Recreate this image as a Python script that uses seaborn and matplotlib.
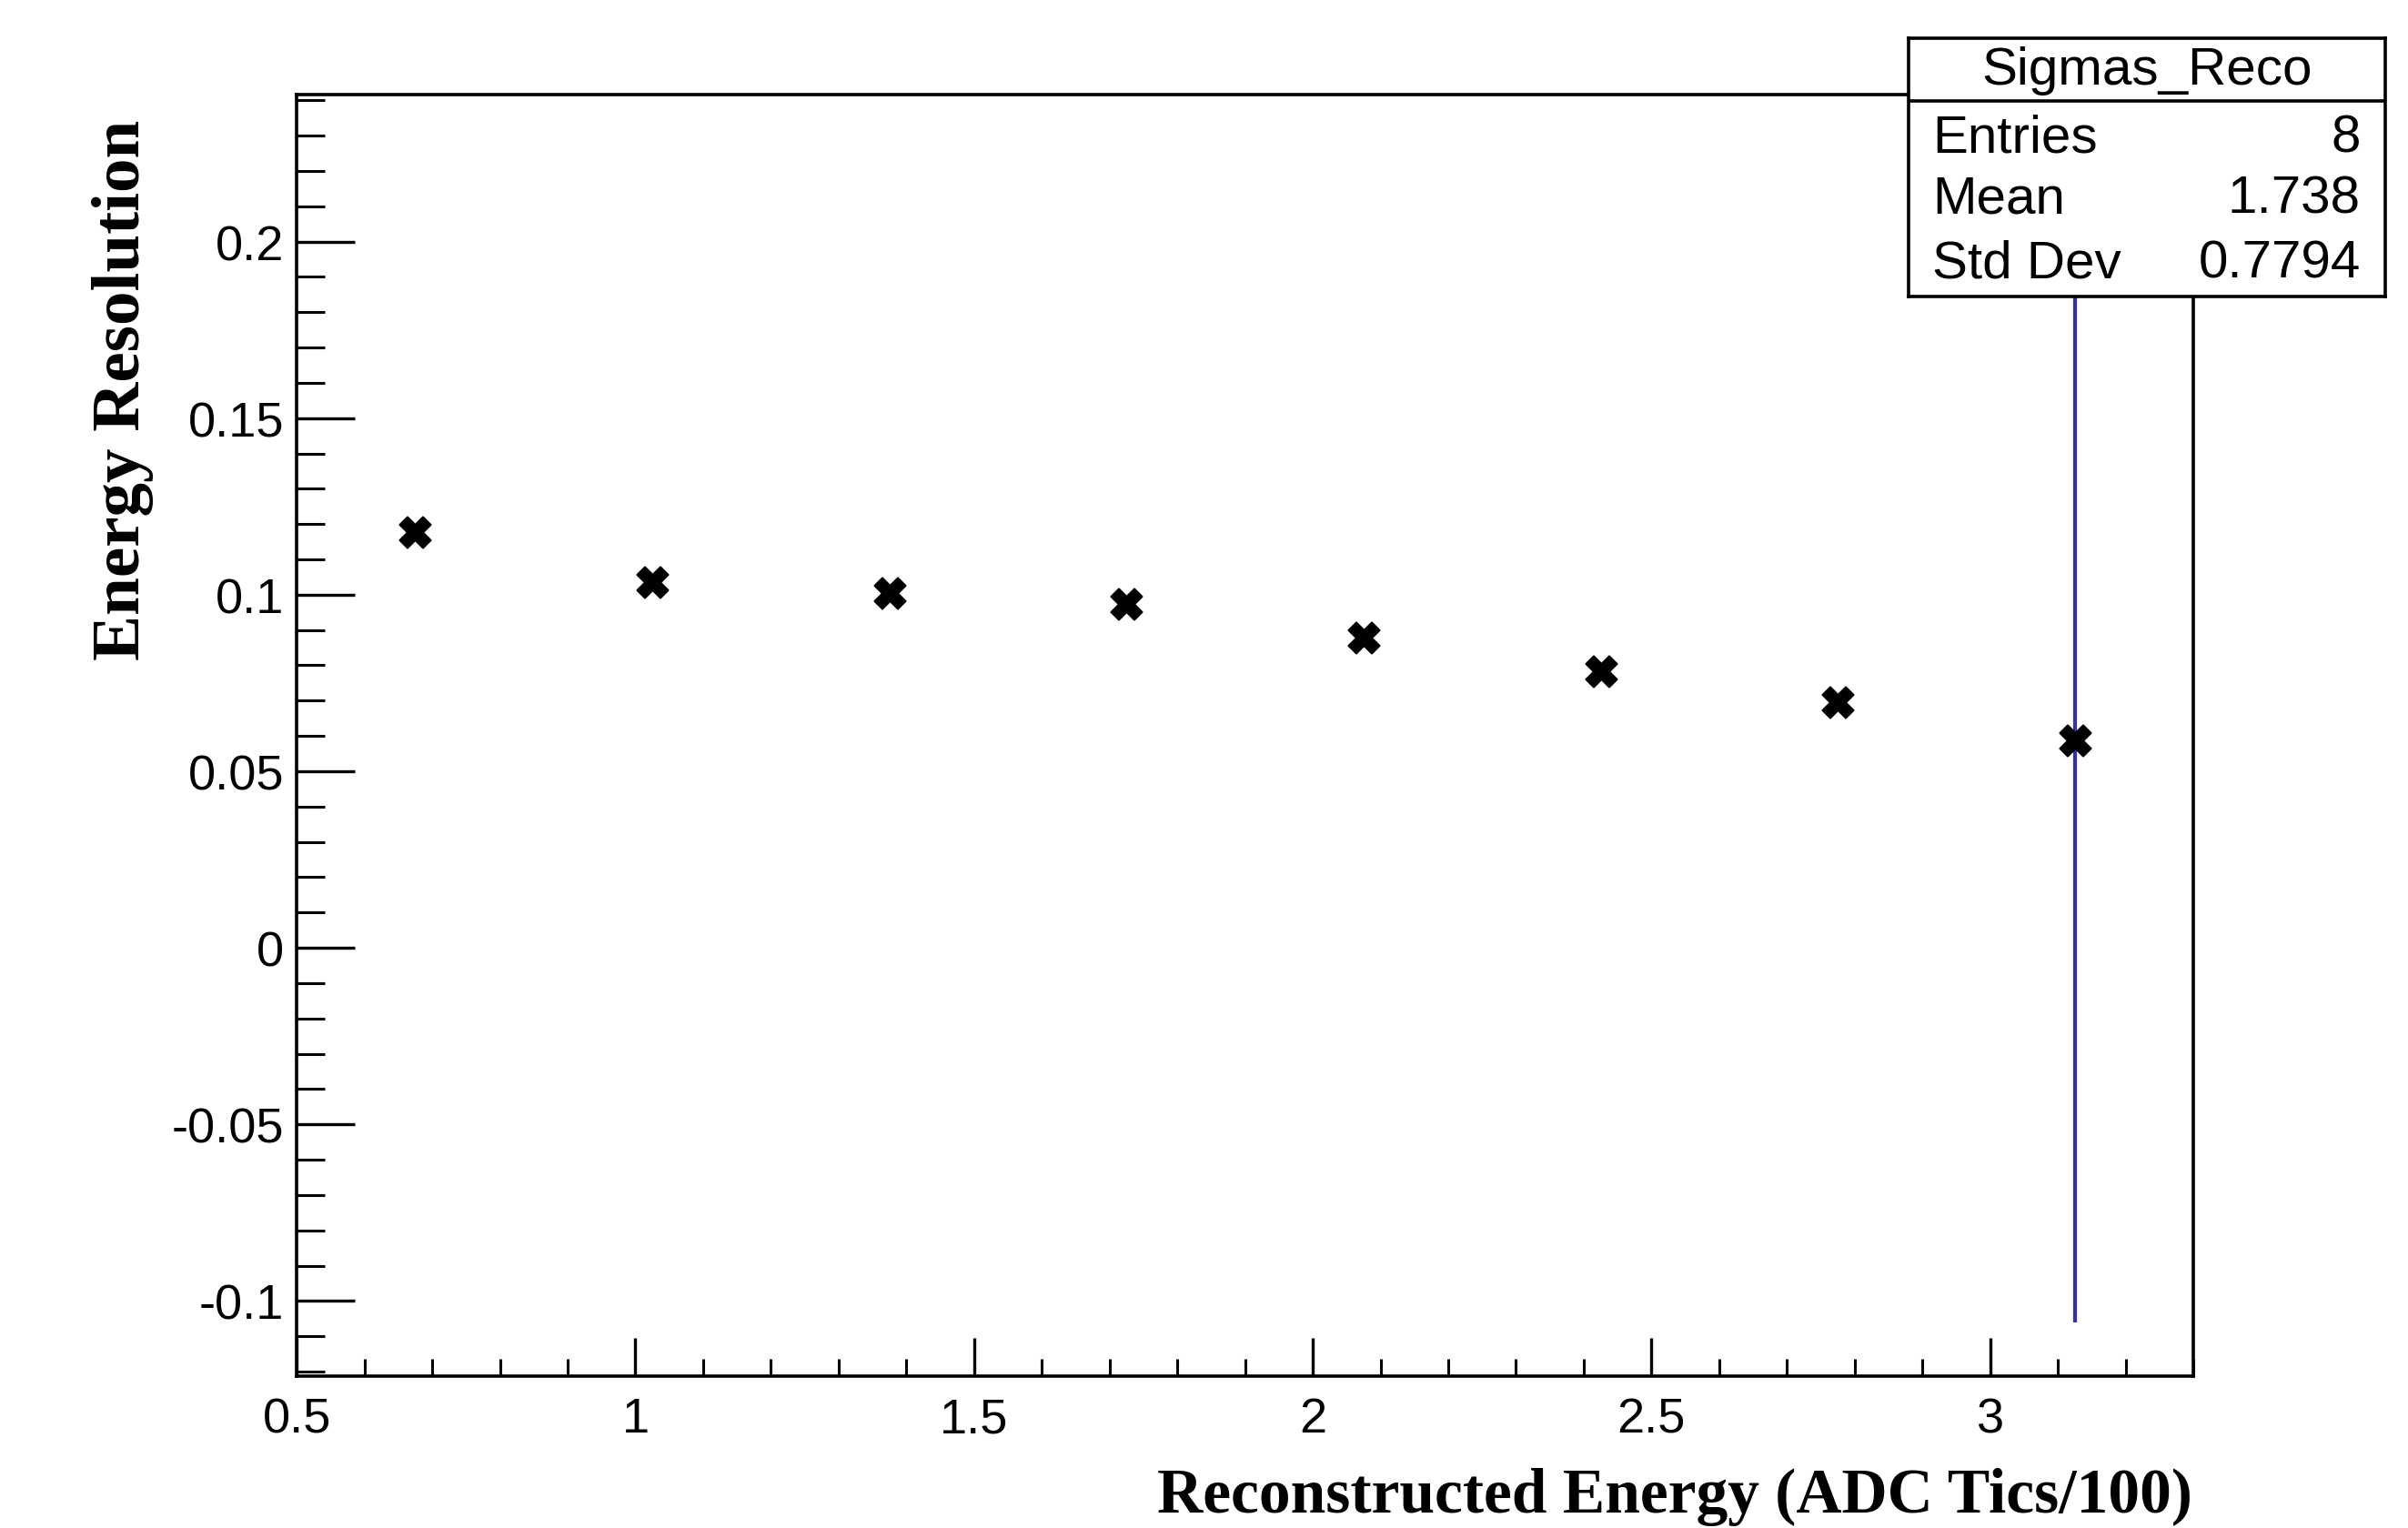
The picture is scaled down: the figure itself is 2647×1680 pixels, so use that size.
import matplotlib
matplotlib.use('Agg')
import matplotlib.pyplot as plt
import seaborn as sns
import pandas as pd
from matplotlib.ticker import MultipleLocator, FuncFormatter

# datos
energia = [0.675, 1.025, 1.375, 1.725, 2.075, 2.425, 2.775, 3.125]
resolucion = [0.1178, 0.1035, 0.1004, 0.0974, 0.0878, 0.0783, 0.0696, 0.0587]
error = [0, 0, 0, 0, 0, 0, 0, 0.1648]

stats_titulo = 'Sigmas_Reco'
stats_nombres = ['Entries', 'Mean', 'Std Dev']
stats_valores = ['8', '1.738', '0.7794']

sns.set_theme(style='white')
plt.rcParams['font.family'] = ['Liberation Sans', 'DejaVu Sans']
plt.rcParams['text.color'] = 'black'
plt.rcParams['axes.labelcolor'] = 'black'
plt.rcParams['xtick.color'] = 'black'
plt.rcParams['ytick.color'] = 'black'

df = pd.DataFrame({'energia': energia, 'resolucion': resolucion, 'error': error})

fig = plt.figure(figsize=(26.47, 16.81), dpi=100)
ax = fig.add_axes([0.1232, 0.0993, 0.7877, 0.8382])

# barra de error (solo visible en el ultimo punto)
ax.errorbar(df['energia'], df['resolucion'], yerr=df['error'], fmt='none',
            ecolor='#3030b0', elinewidth=3.0, capsize=0, zorder=2)
sns.scatterplot(data=df, x='energia', y='resolucion', marker='X', s=600,
                color='black', edgecolor='black', linewidth=1.5, ax=ax, zorder=3)

ax.set_xlim(0.5, 3.3)
ax.set_ylim(-0.1213, 0.2416)
ax.set_xlabel('')
ax.set_ylabel('')

fmt = FuncFormatter(lambda v, _: f'{0.0 + round(v, 6):g}')
ax.xaxis.set_major_locator(MultipleLocator(0.5))
ax.xaxis.set_minor_locator(MultipleLocator(0.1))
ax.yaxis.set_major_locator(MultipleLocator(0.05))
ax.yaxis.set_minor_locator(MultipleLocator(0.01))
ax.xaxis.set_major_formatter(fmt)
ax.yaxis.set_major_formatter(fmt)

ax.tick_params(axis='both', which='both', direction='in', color='black',
               bottom=True, left=True, top=False, right=False,
               labelcolor='black', labelsize=39)
ax.tick_params(axis='x', which='major', length=30, width=2.4, pad=16)
ax.tick_params(axis='x', which='minor', length=14, width=2.2)
ax.tick_params(axis='y', which='major', length=46, width=2.4, pad=10)
ax.tick_params(axis='y', which='minor', length=22, width=2.2)

for s in ax.spines.values():
    s.set_color('black')
    s.set_linewidth(2.6)

# titulos de ejes estilo ROOT
fig.text(135 / 2647, 1 - 132 / 1681, 'Energy Resolution', rotation=90,
         ha='center', va='top', fontsize=54, fontweight='bold', color='black',
         family=['Liberation Serif', 'DejaVu Serif'])
fig.text(2410 / 2647, 1 - 1646 / 1681, 'Reconstructed Energy (ADC Tics/100)',
         ha='right', va='center', fontsize=50, fontweight='bold', color='black',
         family=['Liberation Serif', 'DejaVu Serif'])

# caja de estadisticas
box = fig.add_axes([0.7926, 0.8055, 0.1980, 0.1689])
box.set_facecolor('white')
box.set_xticks([])
box.set_yticks([])
box.set_xlim(0, 1)
box.set_ylim(0, 1)
for s in box.spines.values():
    s.set_color('black')
    s.set_linewidth(2.6)
box.axhline(0.757, color='black', lw=2.6)
box.text(0.5, 0.877, stats_titulo, ha='center', va='center', fontsize=42, color='black')
for nombre, valor, yy in zip(stats_nombres, stats_valores, [0.616, 0.380, 0.130]):
    box.text(0.05, yy, nombre, ha='left', va='center', fontsize=42, color='black')
    box.text(0.948, yy, valor, ha='right', va='center', fontsize=42, color='black')

fig.savefig('out.png', dpi=100)
